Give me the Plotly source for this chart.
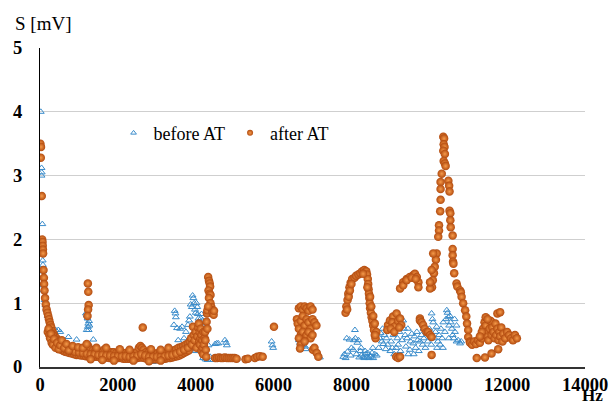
import plotly.graph_objects as go

# ---------------- data (Hz, mV) ----------------
before_spike = [(20,4.00),(40,3.12),(45,3.05),(40,3.00),(60,2.24),(70,1.67),(75,1.60),(80,1.50),
                (90,1.28),(100,1.20),(120,1.05),(140,0.97),(160,0.90),(200,0.80)]
before_band = [(300,0.55),(400,0.58),(470,0.58),(520,0.55),(600,0.27),(730,0.47),(940,0.43),(1370,0.43),
               (1000,0.20),(1500,0.15),(2000,0.15),(2500,0.15),(2900,0.08),(3000,0.12),(3200,0.11),(3400,0.14),
               (1180,0.84),(1200,0.81),(1220,0.76),(1240,0.68),(1230,0.63),(1250,0.58),(1200,0.58),(1270,0.65),(1260,0.72)]
before_mid = [(3440,0.66),(3460,0.88),(3480,0.84),(3490,0.78),(3520,0.61),(3550,0.42),(3600,0.60),(3650,0.63),
              (3700,0.45),(3750,0.55),(3800,0.66),(3830,0.73),(3850,0.79),(3870,0.98),(3900,0.94),(3920,1.12),
              (3940,1.08),(3960,1.00),(3980,0.90),(4000,0.85),(4020,1.00),(4040,0.94),(4050,0.83),(4070,0.76),
              (4090,0.70),(4110,0.66),(4130,0.76),(4150,0.83),(4180,0.73),(4200,0.63),(4220,0.55),(3700,0.30),
              (3800,0.35),(3900,0.30),(4000,0.25),(4100,0.30),(4190,0.14),(4250,0.12),(4300,0.11),(4330,0.34),
              (4370,0.16),(4450,0.11),(4500,0.36),(4540,0.37),(4580,0.37),(4750,0.42),(4780,0.38),(4800,0.34),
              (5050,0.12),(5950,0.40),(5970,0.34),(5990,0.30),
              (6650,0.42),(6680,0.38),(6750,0.34),(6810,0.32),(6830,0.28),(7190,0.15),(7150,0.20)]
before_cloud = [(7790,0.16),(7820,0.20),(7850,0.14),(7880,0.45),(7900,0.24),(7950,0.43),(7980,0.18),(8000,0.30),
                (8050,0.27),(8060,0.42),(8090,0.58),(8100,0.45),(8130,0.20),(8150,0.38),(8180,0.42),(8200,0.15),
                (8230,0.25),(8260,0.18),(8300,0.16),(8330,0.14),(8360,0.20),(8400,0.15),(8420,0.22),(8450,0.14),
                (8480,0.18),(8500,0.16),(8530,0.22),(8560,0.14),(8600,0.20),(8650,0.18),(8700,0.30),(8730,0.45),
                (8750,0.53),(8780,0.40),(8800,0.60),(8820,0.36),(8850,0.50),(8880,0.28),(8900,0.45),(8930,0.35),
                (8960,0.62),(8990,0.58),(9020,0.40),(9050,0.30),(9080,0.50),(9100,0.20),(9130,0.62),(9160,0.68),
                (9180,0.45),(9200,0.35),(9230,0.55),(9260,0.25),(9300,0.42),(9330,0.73),(9350,0.60),(9380,0.50),
                (9400,0.32),(9430,0.45),(9460,0.20),(9500,0.27),(9520,0.40),(9550,0.52),(9590,0.37),(9620,0.48),
                (9650,0.30),(9680,0.55),(9700,0.42),(9730,0.25),(9760,0.40),(9800,0.50),(9830,0.35),(9860,0.45),
                (9900,0.30),(9930,0.55),(9960,0.40),(10000,0.60),(10030,0.50),(10060,0.84),(10080,0.75),(10100,0.70),
                (10130,0.45),(10160,0.55),(10190,0.63),(10220,0.40),(10250,0.50),(10280,0.35),(10300,0.60),(10330,0.45),
                (10360,0.70),(10400,0.55),(10430,0.75),(10450,0.89),(10470,0.85),(10490,0.78),(10510,0.65),(10530,0.80),
                (10550,0.70),(10580,0.60),(10600,0.50),(10630,0.45),(10660,0.55),(10700,0.40),(10740,0.42),(10790,0.37),
                (10820,0.40),
                (8250,0.30),(8350,0.25),(8550,0.30),(9000,0.25),(9150,0.30),(9450,0.60),(9600,0.20),(9850,0.60),
                (10050,0.35),(10200,0.30),(10350,0.30),(10500,0.45),(10650,0.75),(10700,0.65)]

after_spike = [(10,3.50),(25,3.45),(20,3.28),(45,2.68),(55,2.00),(65,1.96),(70,1.90),(75,1.84),(80,1.78),
               (90,1.52),(100,1.40),(105,1.30),(115,1.20),(130,1.08),(150,0.98),(170,0.90),(190,0.85),
               (210,0.80),(230,0.75),(250,0.70),(270,0.66)]
after_band_upper = [(290,0.62),(320,0.56),(350,0.52),(380,0.48),(420,0.45),(460,0.42),(500,0.40),(550,0.37),
                    (600,0.35),(650,0.34),(700,0.32),(760,0.31),(820,0.30),(880,0.29),(940,0.28),(1000,0.28),
                    (1060,0.27),(1120,0.27),(1180,0.30),(1240,0.33),(1300,0.27),(1360,0.26),(1420,0.25),(1480,0.25),
                    (1540,0.24),(1600,0.24),(1660,0.28),(1720,0.24),(1780,0.23),(1840,0.23),(1900,0.23),(1960,0.22),
                    (2020,0.22),(2080,0.22),(2140,0.22),(2200,0.22),(2260,0.21),(2320,0.21),(2380,0.22),(2440,0.22),
                    (2500,0.24),(2540,0.30),(2580,0.33),(2620,0.30),(2660,0.27),(2720,0.23),(2780,0.22),(2840,0.21),
                    (2900,0.21),(2960,0.21),(3020,0.21),(3080,0.21),(3140,0.22),(3200,0.22),(3260,0.23),(3320,0.24),
                    (3380,0.25),(3440,0.26),(3500,0.28),(3560,0.30),(3620,0.31),(3680,0.33),(3740,0.35),(3800,0.37)]
after_band_lower = [(300,0.45),(340,0.40),(380,0.36),(420,0.33),(460,0.31),(500,0.29),(550,0.27),(600,0.25),
                    (650,0.24),(700,0.23),(760,0.22),(820,0.21),(880,0.20),(940,0.19),(1000,0.19),(1060,0.18),
                    (1120,0.18),(1180,0.17),(1240,0.17),(1300,0.17),(1360,0.16),(1420,0.16),(1480,0.16),(1540,0.15),
                    (1600,0.15),(1660,0.15),(1720,0.15),(1780,0.14),(1840,0.14),(1900,0.14),(1960,0.14),(2020,0.14),
                    (2080,0.14),(2140,0.13),(2200,0.13),(2260,0.13),(2320,0.13),(2380,0.13),(2440,0.13),(2500,0.14),
                    (2560,0.15),(2620,0.15),(2680,0.14),(2740,0.13),(2800,0.13),(2860,0.12),(2920,0.12),(2980,0.12),
                    (3040,0.12),(3100,0.13),(3160,0.13),(3220,0.13),(3280,0.14),(3340,0.14),(3400,0.15),(3460,0.16),
                    (3520,0.17),(3580,0.18),(3640,0.20),(3700,0.22),(3760,0.24),(3820,0.26)]
after_band_mid = [(320,0.50),(400,0.40),(480,0.36),(560,0.32),(640,0.29),(720,0.27),(800,0.26),(900,0.24),
                  (1000,0.23),(1100,0.22),(1200,0.21),(1300,0.20),(1400,0.20),(1500,0.19),(1600,0.19),(1700,0.18),
                  (1800,0.18),(1900,0.17),(2000,0.17),(2100,0.17),(2200,0.17),(2300,0.16),(2400,0.17),(2500,0.18),
                  (2600,0.20),(2700,0.18),(2800,0.16),(2900,0.16),(3000,0.16),(3100,0.16),(3200,0.17),(3300,0.18),
                  (3400,0.19),(3500,0.21),(3600,0.24),(3700,0.27),(3800,0.30)]
after_band_scatter = [(200,0.55),(220,0.60),(240,0.50),(260,0.45),(280,0.52),(300,0.38),(330,0.35),(360,0.44),
                      (400,0.30),(440,0.38),(480,0.28),(520,0.34),(560,0.42),(620,0.30),(680,0.36),(740,0.26),
                      (840,0.33),(980,0.31),(1100,0.30),(1450,0.30),(1700,0.30),(2050,0.28),(2300,0.27),
                      (2850,0.28),(3100,0.27),(3300,0.30),(1900,0.10),(2400,0.10),(2800,0.09),(3100,0.10),
                      (1300,0.12),(1600,0.11)]
after_mid = [(1230,1.31),(1240,1.18),(1250,0.97),(1235,0.90),(1220,0.80),(1200,0.36),(2640,0.62),
             (3850,0.40),(3880,0.45),(3900,0.35),(3930,0.63),(3950,0.50),(3970,0.42),(4000,0.55),(4020,0.30),
             (4040,0.48),(4060,0.62),(4080,0.68),(4090,0.40),(4100,0.55),(4110,0.35),(4120,0.45),(4130,0.60),
             (4150,0.25),(4150,0.50),(4170,0.42),(4180,0.30),(4190,0.20),(4200,0.55),(4210,0.35),(4230,0.45),
             (4240,0.55),(4250,0.42),(4260,0.27),(4270,0.16),(4280,0.71),(4290,0.84),(4300,0.89),(4320,1.41),
             (4340,1.35),(4360,1.31),(4370,1.26),(4330,1.20),(4360,1.15),(4380,1.13),(4340,1.08),(4380,1.00),
             (4400,0.94),(4420,0.89),(4440,0.85),(4460,0.82),(4470,0.88),(4320,0.95),(4300,0.60),
             (4500,0.14),(4550,0.14),(4600,0.15),(4650,0.14),(4700,0.14),(4750,0.15),(4800,0.14),(4850,0.14),
             (4900,0.14),(4950,0.14),(5000,0.14),(5050,0.13),(5280,0.12),(5340,0.13),(5520,0.14),(5580,0.16),
             (5650,0.17),(5720,0.16),(6010,0.63),
             (6650,0.92),(6700,0.95),(6750,0.90),(6800,0.95),(6850,0.92),(6900,0.88),(6950,0.95),(7000,0.90),
             (6600,0.75),(6620,0.68),(6650,0.60),(6700,0.72),(6750,0.80),(6800,0.65),(6850,0.75),(6900,0.70),
             (6950,0.60),(7000,0.75),(7050,0.70),(7100,0.65),(6700,0.50),(6750,0.55),(6800,0.45),(6850,0.50),
             (6900,0.55),(6950,0.45),(7000,0.50),(6650,0.45),(6700,0.35),(6680,0.29),(6800,0.40),(7010,0.27),
             (7050,0.30),(7110,0.22),(7150,0.16)]
after_peaks = [(7850,0.85),(7870,0.95),(7900,1.05),(7920,1.15),(7950,1.25),(7980,1.32),(8020,1.38),(8080,1.40),
               (8120,1.43),(8180,1.45),(8230,1.47),(8280,1.50),(8330,1.52),(8380,1.50),(8400,1.45),(8420,1.38),
               (8430,1.30),(8440,1.22),(8450,1.15),(8460,1.08),(8470,1.00),(8480,0.92),(8500,0.85),(8520,0.78),
               (8540,0.72),(8560,0.65),(8580,0.58),(8600,0.50),(8620,0.45),
               (7890,0.90),(7930,1.10),(7960,1.20),(8000,1.30),(8300,1.46),(8410,1.25),(8480,1.10),(8510,0.95),
               (8560,0.80),(8600,0.68),(8640,0.55),(8610,0.50),
               (8940,0.66),(8920,0.58),(8990,0.73),(9070,0.79),(9160,0.84),(9050,0.70),(9120,0.64),(9200,0.72),
               (9250,0.76),(9280,0.66),(9010,0.60),(9100,0.55),(9230,0.62),(9150,0.16),(9200,0.14),(9250,0.16),
               (9250,1.23),(9330,1.33),(9420,1.38),(9330,1.28),(9500,1.41),(9590,1.44),(9630,1.46),(9680,1.41),
               (9720,1.33),(9720,1.25),(9420,1.36),(9550,1.40),(9650,1.38),
               (9760,0.76),(9760,0.73),(9800,0.70),(9840,0.66),(9880,0.60),(9930,0.55),(9970,0.55),(10020,0.50),
               (10060,0.47),(10060,0.19),
               (10360,3.61),(10380,3.58),(10370,3.49),(10390,3.45),(10360,3.39),(10400,3.34),(10370,3.23),(10400,3.19),
               (10420,3.15),(10320,3.03),(10290,2.90),(10290,2.79),(10290,2.62),(10280,2.44),(10250,2.22),(10250,2.14),
               (10230,2.04),(10190,1.78),(10170,1.68),(10140,1.57),(10120,1.47),(10090,1.36),(10070,1.25),(10020,1.23),
               (10060,1.52),(10020,1.33),(10100,1.78),
               (10490,2.92),(10510,2.84),(10520,2.75),(10520,2.45),(10540,2.41),(10540,2.30),(10550,2.19),(10600,2.06),
               (10600,1.85),(10600,1.75),(10610,1.65),(10620,1.62),(10640,1.47),(10700,1.31),(10720,1.26),(10790,1.20),
               (10810,1.17),(10830,1.10),(10870,1.00),(10920,0.89),(10950,0.79),(10970,0.68),(11000,0.58),(11000,0.47),
               (11040,0.40),(11070,0.38),
               (11220,0.14),(11430,0.15),(11600,0.21),(11770,0.28),
               (11050,0.38),(11100,0.35),(11150,0.40),(11200,0.36),(11250,0.42),(11300,0.38),(11350,0.45),(11400,0.50),
               (11380,0.60),(11420,0.70),(11450,0.65),(11480,0.55),(11500,0.48),(11520,0.42),(11550,0.60),(11580,0.72),
               (11600,0.50),(11620,0.62),(11650,0.55),(11680,0.45),(11700,0.68),(11720,0.50),(11750,0.60),(11780,0.42),
               (11800,0.55),(11820,0.48),(11850,0.62),(11880,0.40),(11900,0.52),(11950,0.45),(12000,0.55),(12050,0.50),
               (12100,0.45),(12150,0.42),(12200,0.50),(12250,0.45),(11750,0.84),(11820,0.86),(11450,0.78),(11500,0.75),
               (11350,0.55),(11300,0.48)]

x_ticks = [0, 2000, 4000, 6000, 8000, 10000, 12000, 14000]
y_ticks = [0, 1, 2, 3, 4, 5]

before_at = before_spike + before_band + before_mid + before_cloud
after_at = (after_spike + after_band_upper + after_band_lower + after_band_mid + after_band_scatter
            + after_mid + after_peaks)

FONT = "Liberation Serif, Times New Roman, serif"
BLUE = "#3A8CCB"
ORANGE_EDGE = "#B24A0E"
ORANGE_CENTER = "#F59A4A"

fig = go.Figure()
fig.add_trace(go.Scatter(
    x=[p[0] for p in before_at], y=[p[1] for p in before_at], mode="markers",
    marker=dict(symbol="triangle-up-open", size=6, color=BLUE, line=dict(width=1, color=BLUE)),
    showlegend=False))
fig.add_trace(go.Scatter(
    x=[p[0] for p in after_at], y=[p[1] for p in after_at], mode="markers",
    marker=dict(symbol="circle", size=8.5, color=ORANGE_EDGE,
                gradient=dict(type="radial", color=ORANGE_CENTER), line=dict(width=0)),
    showlegend=False))
# legend entries
fig.add_trace(go.Scatter(x=[None], y=[None], mode="markers", name="before AT",
    marker=dict(symbol="triangle-up-open", size=5, color=BLUE, line=dict(width=1, color=BLUE))))
fig.add_trace(go.Scatter(x=[None], y=[None], mode="markers", name="after AT",
    marker=dict(symbol="circle", size=6, color=ORANGE_EDGE,
                gradient=dict(type="radial", color=ORANGE_CENTER), line=dict(width=0))))

fig.update_layout(
    width=609, height=405,
    margin=dict(l=40, r=24, t=48, b=38),
    plot_bgcolor="white", paper_bgcolor="white",
    font=dict(family=FONT, size=16, color="black"),
    legend=dict(orientation="h", x=0.135, y=0.733, xanchor="left", yanchor="middle",
                font=dict(family=FONT, size=18, color="black"), bgcolor="rgba(0,0,0,0)",
                itemwidth=30, tracegroupgap=0),
    annotations=[
        dict(text="S [mV]", xref="paper", yref="paper", x=-0.05, y=1.078, xanchor="left",
             yanchor="middle", showarrow=False, font=dict(family=FONT, size=19, color="black")),
        dict(text="<b>Hz</b>", xref="paper", yref="paper", x=1.037, y=-0.088, xanchor="right",
             yanchor="middle", showarrow=False, font=dict(family=FONT, size=17, color="black")),
    ],
)
fig.update_xaxes(range=[0, 14000], tickvals=x_ticks, ticktext=[f"<b>{v}</b>" for v in x_ticks],
                 showgrid=False, zeroline=False, showline=True, linecolor="#333333", linewidth=2,
                 ticks="", automargin=False, tickfont=dict(family=FONT, size=18.5, color="black"))
fig.update_yaxes(range=[0, 5], tickvals=y_ticks, ticktext=[f"<b>{v}</b>" for v in y_ticks],
                 showgrid=True, gridcolor="#cfcfcf", gridwidth=1, zeroline=False,
                 showline=True, linecolor="black", linewidth=1,
                 ticks="", automargin=False, ticklabelstandoff=13,
                 tickfont=dict(family=FONT, size=18.5, color="black"))

fig.write_html("out.html", config={"displayModeBar": False},
               post_script="document.body.style.margin='0';document.body.style.overflow='hidden';")
